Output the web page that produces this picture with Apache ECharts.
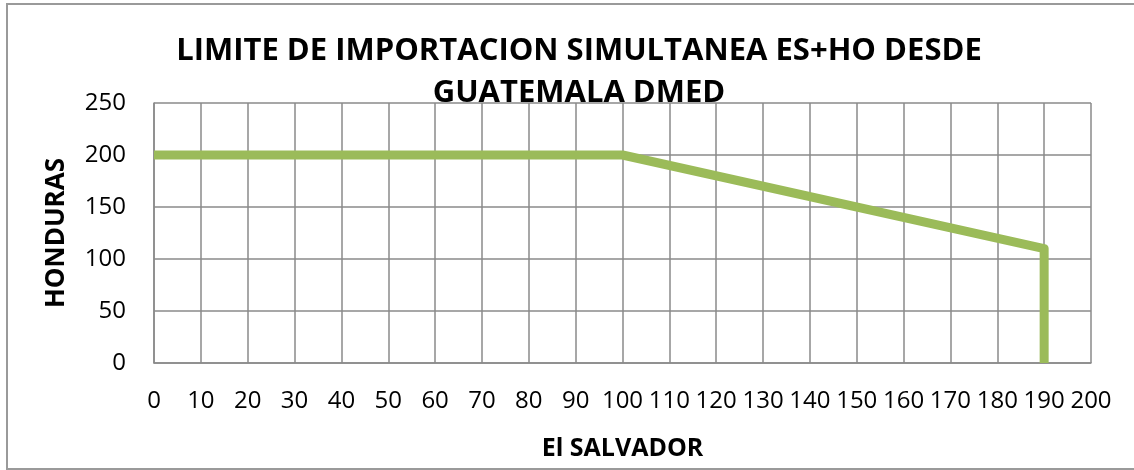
<!DOCTYPE html>
<html>
<head>
<meta charset="utf-8">
<script src="https://cdn.jsdelivr.net/npm/echarts@6/dist/echarts.min.js"></script>
<style>
  html, body { margin: 0; padding: 0; background: #fff; }
  #chart { width: 1134px; height: 470px; }
</style>
</head>
<body>
<div id="chart"></div>
<script>
// datos
var salvador = [0, 100, 190, 190];
var honduras = [200, 200, 110, 0];
var titulo = 'LIMITE DE IMPORTACION SIMULTANEA ES+HO DESDE\nGUATEMALA DMED';

var puntos = [];
for (var i = 0; i < salvador.length; i++) {
  puntos.push([salvador[i], honduras[i]]);
}

var chartDom = document.getElementById('chart');
var myChart = echarts.init(chartDom);
var gris = '#8a8a8a';
var fuente = '"Open Sans", sans-serif';

var option = {
  animation: false,
  title: {
    text: titulo,
    left: 574,
    top: 25,
    textAlign: 'center',
    textStyle: {
      fontFamily: fuente,
      fontWeight: 'bold',
      fontSize: 31,
      lineHeight: 42,
      color: '#000'
    }
  },
  graphic: [{
    type: 'rect',
    shape: { x: 7, y: 4, width: 1140, height: 465 },
    style: { fill: 'none', stroke: '#9a9a9a', lineWidth: 2 },
    silent: true
  }],
  grid: { left: 154, top: 103, right: 43, bottom: 107 },
  xAxis: {
    type: 'value',
    min: 0,
    max: 200,
    interval: 10,
    name: 'El SALVADOR',
    nameLocation: 'middle',
    nameGap: 73,
    nameTextStyle: { fontFamily: fuente, fontWeight: 'bold', fontSize: 25, color: '#000' },
    axisLine: { show: true, lineStyle: { color: gris, width: 1.5 } },
    axisTick: { show: false },
    axisLabel: { fontFamily: fuente, fontSize: 24, color: '#000', margin: 26 },
    splitLine: { show: true, lineStyle: { color: gris, width: 1.5 } }
  },
  yAxis: {
    type: 'value',
    min: 0,
    max: 250,
    interval: 50,
    name: 'HONDURAS',
    nameLocation: 'middle',
    nameGap: 84,
    nameRotate: 90,
    nameTextStyle: { fontFamily: fuente, fontWeight: 'bold', fontSize: 26, color: '#000' },
    axisLine: { show: true, lineStyle: { color: gris, width: 1.5 } },
    axisTick: { show: false },
    axisLabel: { fontFamily: fuente, fontSize: 24, color: '#000', margin: 28 },
    splitLine: { show: true, lineStyle: { color: gris, width: 1.5 } }
  },
  series: [{
    type: 'line',
    data: puntos,
    symbol: 'none',
    lineStyle: { color: '#9bbb59', width: 9, join: 'round', cap: 'butt' },
    z: 5
  }]
};

option && myChart.setOption(option);
</script>
</body>
</html>
